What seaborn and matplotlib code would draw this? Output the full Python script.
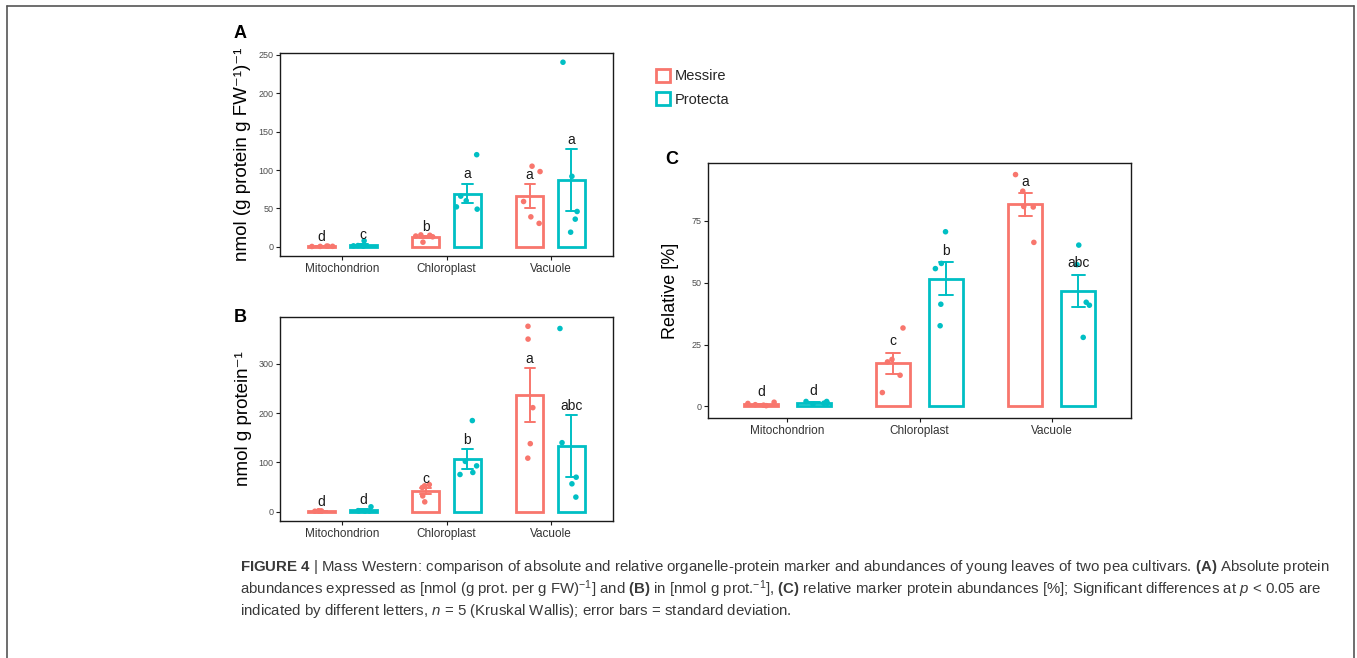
import numpy as np
import pandas as pd
import matplotlib
matplotlib.use("Agg")
import matplotlib.pyplot as plt
import seaborn as sns
from matplotlib.patches import Patch
from matplotlib.lines import Line2D
from matplotlib import font_manager as fm

# ---------------- data ----------------
categories = ["Mitochondrion", "Chloroplast", "Vacuole"]
cultivars = ["Messire", "Protecta"]
colors = ["#F8766D", "#00BFC4"]

# Panel A: nmol (g protein g FW^-1)^-1
a_messire_mito = [0.4, 0.7, 0.5, 0.9, 0.6]
a_protecta_mito = [7.8, 1.5, 1.2, 1.6, 1.0]
a_messire_chl = [15.0, 13.0, 6.0, 14.0, 15.5]
a_protecta_chl = [120.0, 66.0, 60.0, 49.0, 52.0]
a_messire_vac = [105.0, 98.0, 59.0, 39.0, 30.5]
a_protecta_vac = [240.5, 91.8, 46.0, 36.0, 19.0]
a_letters_messire = ["d", "b", "a"]
a_letters_protecta = ["c", "a", "a"]
a_yticks = [0, 50, 100, 150, 200, 250]

# Panel B: nmol g protein^-1
b_messire_mito = [1.0, 1.5, 2.0, 1.0, 1.2]
b_protecta_mito = [10.0, 1.5, 1.8, 1.3, 2.2]
b_messire_chl = [52.6, 49.0, 55.0, 32.0, 20.0]
b_protecta_chl = [184.8, 102.0, 93.0, 75.5, 79.6]
b_messire_vac = [376.0, 350.0, 211.0, 138.0, 108.6]
b_protecta_vac = [371.5, 140.0, 70.0, 56.6, 29.7]
b_letters_messire = ["d", "c", "a"]
b_letters_protecta = ["d", "b", "abc"]
b_yticks = [0, 100, 200, 300]

# Panel C: relative [%]
c_messire_mito = [1.7, 0.3, 1.2, 0.7, 0.5]
c_protecta_mito = [2.0, 1.3, 2.0, 1.3, 0.9]
c_messire_chl = [31.7, 5.6, 18.0, 19.0, 12.6]
c_protecta_chl = [70.6, 55.7, 57.8, 41.3, 32.6]
c_messire_vac = [93.7, 87.0, 80.8, 80.6, 66.3]
c_protecta_vac = [65.2, 57.3, 42.1, 40.9, 27.9]
c_letters_messire = ["d", "c", "a"]
c_letters_protecta = ["d", "b", "abc"]
c_yticks = [0, 25, 50, 75]


def make_df(m_lists, p_lists):
    rows = []
    for cat, vals in zip(categories, m_lists):
        rows += [(cat, "Messire", v) for v in vals]
    for cat, vals in zip(categories, p_lists):
        rows += [(cat, "Protecta", v) for v in vals]
    return pd.DataFrame(rows, columns=["organelle", "cultivar", "value"])


df_a = make_df([a_messire_mito, a_messire_chl, a_messire_vac],
               [a_protecta_mito, a_protecta_chl, a_protecta_vac])
df_b = make_df([b_messire_mito, b_messire_chl, b_messire_vac],
               [b_protecta_mito, b_protecta_chl, b_protecta_vac])
df_c = make_df([c_messire_mito, c_messire_chl, c_messire_vac],
               [c_protecta_mito, c_protecta_chl, c_protecta_vac])

# ---------------- style ----------------
sns.set_style("ticks")
names = {f.name for f in fm.fontManager.ttflist}
base_font = "Liberation Sans" if "Liberation Sans" in names else "DejaVu Sans"
cap_font = "Liberation Sans Narrow" if "Liberation Sans Narrow" in names else base_font
plt.rcParams["font.family"] = [base_font, "DejaVu Sans"]
plt.rcParams["mathtext.fontset"] = "custom"
plt.rcParams["mathtext.rm"] = cap_font
plt.rcParams["mathtext.it"] = cap_font + ":italic"
plt.rcParams["mathtext.bf"] = cap_font + ":bold"

W, H = 1357, 658
fig = plt.figure(figsize=(W / 100, H / 100), dpi=100)
fig.patch.set_facecolor("white")


def fx(px):
    return px / W


def fy(py):
    return 1 - py / H


def axes_rect(l, t, r, b):
    return [fx(l), fy(b), (r - l) / W, (b - t) / H]


ax_a = fig.add_axes(axes_rect(280, 53, 613, 256))
ax_b = fig.add_axes(axes_rect(280, 317, 613, 521))
ax_c = fig.add_axes(axes_rect(708, 163, 1131, 418))

np.random.seed(7)


def draw_panel(ax, df, letters_m, letters_p, yticks, ylabel, label_x, ylab_size):
    for cult, col in zip(cultivars, colors):
        sub = df[df["cultivar"] == cult]
        sns.barplot(data=sub, x="organelle", y="value", hue="cultivar",
                    order=categories, hue_order=cultivars,
                    palette=dict(zip(cultivars, colors)), saturation=1,
                    fill=False, width=0.8, gap=0.35, dodge=True,
                    errorbar="se", capsize=0.2, linewidth=2,
                    err_kws={"color": col, "linewidth": 1.4},
                    legend=False, ax=ax, zorder=2)
    sns.stripplot(data=df, x="organelle", y="value", hue="cultivar",
                  order=categories, hue_order=cultivars,
                  palette=dict(zip(cultivars, colors)), dodge=True,
                  jitter=0.22, size=4, linewidth=0, legend=False, ax=ax,
                  zorder=3)
    ymax = df["value"].max()
    lo, hi = -0.05 * ymax, 1.05 * ymax
    stats = df.groupby(["organelle", "cultivar"])["value"].agg(["mean", "sem"])
    for i, cat in enumerate(categories):
        for cult, off, lets in zip(cultivars, (-0.2, 0.2), (letters_m, letters_p)):
            m, s = stats.loc[(cat, cult)]
            ax.text(i + off, m + s + 0.045 * (hi - lo), lets[i], ha="center",
                    va="center", fontsize=10, color="#1a1a1a", zorder=4)
    ax.set_xlim(-0.6, 2.6)
    ax.set_ylim(lo, hi)
    ax.set_yticks(yticks)
    ax.set_xlabel("")
    ax.set_ylabel(ylabel, fontsize=ylab_size, color="black")
    ax.yaxis.set_label_coords(label_x, 0.5)
    for sp in ax.spines.values():
        sp.set_visible(True)
        sp.set_linewidth(1.0)
        sp.set_color("#1a1a1a")
    ax.tick_params(axis="y", direction="out", length=3, width=0.8,
                   colors="#1a1a1a", labelsize=6.5, labelcolor="#4d4d4d", pad=1.5)
    ax.tick_params(axis="x", direction="out", length=3, width=0.8,
                   colors="#1a1a1a", labelsize=8.5, labelcolor="#333333", pad=2)


draw_panel(ax_a, df_a, a_letters_messire, a_letters_protecta, a_yticks,
           "nmol (g protein g FW\u207b\u00b9)\u207b\u00b9", (251 - 280) / 333, 13.5)
draw_panel(ax_b, df_b, b_letters_messire, b_letters_protecta, b_yticks,
           "nmol g protein\u207b\u00b9", (252 - 280) / 333, 13.5)
draw_panel(ax_c, df_c, c_letters_messire, c_letters_protecta, c_yticks,
           "Relative [%]", (679 - 708) / 423, 13)

# panel letters
for lab, (px, py) in {"A": (240, 33), "B": (240, 318), "C": (672, 160)}.items():
    fig.text(fx(px), fy(py), lab, ha="center", va="center", fontsize=13,
             fontweight="bold", color="black")

# legend
handles = [Patch(facecolor="white", edgecolor=c, linewidth=2) for c in colors]
fig.legend(handles, cultivars, loc="upper left",
           bbox_to_anchor=(fx(650), fy(63)), frameon=False, fontsize=10.5,
           handlelength=1.0, handleheight=1.0, handletextpad=0.3,
           labelspacing=0.6, borderaxespad=0)

# outer frame
frame_kw = dict(color="#555555", linewidth=1.2, transform=fig.transFigure)
fig.add_artist(Line2D([fx(7), fx(7)], [fy(6), 0], **frame_kw))
fig.add_artist(Line2D([fx(7), fx(1354)], [fy(6), fy(6)], **frame_kw))
fig.add_artist(Line2D([fx(1354), fx(1354)], [fy(6), 0], **frame_kw))

# caption
cap_lines = [
    r"$\mathbf{FIGURE\ 4}$ | Mass Western: comparison of absolute and relative organelle-protein marker and abundances of young leaves of two pea cultivars. $\mathbf{(A)}$ Absolute protein",
    r"abundances expressed as [nmol (g prot. per g FW)$^{-1}$] and $\mathbf{(B)}$ in [nmol g prot.$^{-1}$], $\mathbf{(C)}$ relative marker protein abundances [%]; Significant differences at $p$ < 0.05 are",
    r"indicated by different letters, $n$ = 5 (Kruskal Wallis); error bars = standard deviation.",
]
cap_y = [567, 589, 611]
cap_texts = [fig.text(fx(240), fy(y), s, ha="left", va="center", fontsize=11,
                      color="#3a3a3a", family=[cap_font, "DejaVu Sans"])
             for s, y in zip(cap_lines, cap_y)]
fig.canvas.draw()
r = fig.canvas.get_renderer()
w0 = cap_texts[0].get_window_extent(r).width
scale = 1092 / w0
for t in cap_texts:
    t.set_fontsize(11 * scale)

fig.savefig("out.png", dpi=100, facecolor="white")
